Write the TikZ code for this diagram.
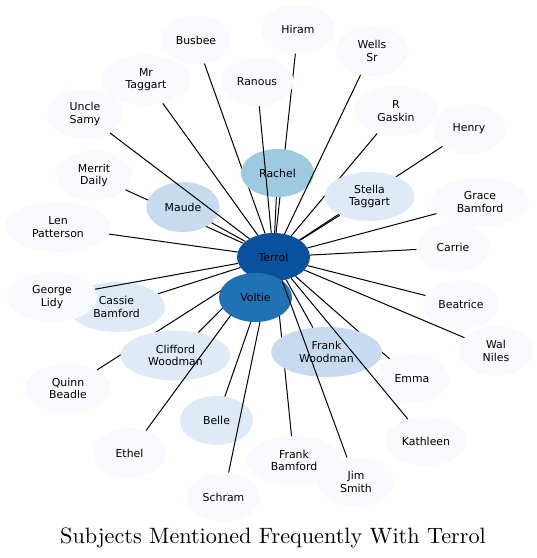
\documentclass[tikz,border=0pt]{standalone}
\usepackage{fontspec}
\newfontfamily\dejavu{DejaVu Sans}
\newfontfamily\titlefont{lmroman10-regular.otf}
\usetikzlibrary{shapes.geometric}
\definecolor{b1}{HTML}{F7FBFF}
\definecolor{b2}{HTML}{DEEBF7}
\definecolor{b3}{HTML}{C6DBEF}
\definecolor{b4}{HTML}{9ECAE1}
\definecolor{b7}{HTML}{2171B5}
\definecolor{b8}{HTML}{08519C}
\tikzset{
  bub/.style={ellipse, inner sep=0pt, align=center, draw=none,
    font={\dejavu\fontsize{10.9}{12.3}\selectfont}},
  link/.style={draw=black, line width=1pt},
}
\begin{document}
\begin{tikzpicture}[x=1pt,y=-1pt]
\useasboundingbox (0,0) rectangle (537,558);
\node[bub, fill=b8, minimum width=73pt, minimum height=48pt] (terrol) at (273.5,257) {Terrol};
\node[bub, fill=b2, minimum width=97pt, minimum height=50pt] (cassie) at (116.5,307) {Cassie\\Bamford};
\draw[link] (terrol) -- (cassie);
\node[bub, fill=b1, minimum width=90pt, minimum height=50pt] (george) at (52,297) {George\\Lidy};
\draw[link] (terrol) -- (george);
\node[bub, fill=b1, minimum width=76pt, minimum height=50pt] (merrit) at (94,175.5) {Merrit\\Daily};
\draw[link] (terrol) -- (merrit);
\node[bub, fill=b1, minimum width=72pt, minimum height=48pt] (busbee) at (196,40) {Busbee};
\draw[link] (terrol) -- (busbee);
\node[bub, fill=b1, minimum width=74pt, minimum height=49pt] (hiram) at (298,29) {Hiram};
\draw[link] (terrol) -- (hiram);
\node[bub, fill=b1, minimum width=73pt, minimum height=50pt] (henry) at (469,129) {Henry};
\draw[link] (terrol) -- (henry);
\node[bub, fill=b1, minimum width=84pt, minimum height=50pt] (rgaskin) at (396,111) {R\\Gaskin};
\draw[link] (terrol) -- (rgaskin);
\node[bub, fill=b1, minimum width=86pt, minimum height=50pt] (quinn) at (68,388.5) {Quinn\\Beadle};
\draw[link] (terrol) -- (quinn);
\node[bub, fill=b2, minimum width=110pt, minimum height=50pt] (clifford) at (175.5,355.5) {Clifford\\Woodman};
\draw[link] (terrol) -- (clifford);
\node[bub, fill=b1, minimum width=73pt, minimum height=50pt] (ethel) at (129.5,453) {Ethel};
\draw[link] (terrol) -- (ethel);
\node[bub, fill=b2, minimum width=73pt, minimum height=49pt] (belle) at (216.5,420.5) {Belle};
\draw[link] (terrol) -- (belle);
\node[bub, fill=b1, minimum width=73pt, minimum height=49pt] (schram) at (223.5,497) {Schram};
\draw[link] (terrol) -- (schram);
\node[bub, fill=b1, minimum width=96pt, minimum height=49pt] (fbamford) at (294,460.5) {Frank\\Bamford};
\draw[link] (terrol) -- (fbamford);
\node[bub, fill=b1, minimum width=74pt, minimum height=49pt] (emma) at (412,378.5) {Emma};
\draw[link] (terrol) -- (emma);
\node[bub, fill=b3, minimum width=73pt, minimum height=50pt] (maude) at (183,207) {Maude};
\draw[link] (terrol) -- (maude);
\node[bub, fill=b4, minimum width=73pt, minimum height=48pt] (rachel) at (277.5,173) {Rachel};
\draw[link] (terrol) -- (rachel);
\node[bub, fill=b2, minimum width=90pt, minimum height=49pt] (stella) at (369.5,196.5) {Stella\\Taggart};
\draw[link] (terrol) -- (stella);
\node[bub, fill=b7, minimum width=73pt, minimum height=49pt] (voltie) at (255.5,297.5) {Voltie};
\node[bub, fill=b3, minimum width=111pt, minimum height=50pt] (fwoodman) at (326.5,352) {Frank\\Woodman};
\draw[link] (terrol) -- (fwoodman);
\node[bub, fill=b1, minimum width=76pt, minimum height=50pt] (uncle) at (85,114) {Uncle\\Samy};
\draw[link] (terrol) -- (uncle);
\node[bub, fill=b1, minimum width=73pt, minimum height=49pt] (ranous) at (257,81.5) {Ranous};
\draw[link] (terrol) -- (ranous);
\node[bub, fill=b1, minimum width=76pt, minimum height=50pt] (jim) at (356,482) {Jim\\Smith};
\draw[link] (terrol) -- (jim);
\node[bub, fill=b1, minimum width=82pt, minimum height=49pt] (kathleen) at (426,441) {Kathleen};
\draw[link] (terrol) -- (kathleen);
\node[bub, fill=b1, minimum width=90pt, minimum height=50pt] (mrtaggart) at (146,80) {Mr\\Taggart};
\draw[link] (terrol) -- (mrtaggart);
\node[bub, fill=b1, minimum width=106pt, minimum height=50pt] (len) at (58,227) {Len\\Patterson};
\draw[link] (terrol) -- (len);
\node[bub, fill=b1, minimum width=73pt, minimum height=50pt] (wells) at (372,51) {Wells\\Sr};
\draw[link] (terrol) -- (wells);
\node[bub, fill=b1, minimum width=98pt, minimum height=50pt] (grace) at (480,202) {Grace\\Bamford};
\draw[link] (terrol) -- (grace);
\node[bub, fill=b1, minimum width=73pt, minimum height=49pt] (carrie) at (453,247.5) {Carrie};
\draw[link] (terrol) -- (carrie);
\node[bub, fill=b1, minimum width=76pt, minimum height=49pt] (beatrice) at (461,304.5) {Beatrice};
\draw[link] (terrol) -- (beatrice);
\node[bub, fill=b1, minimum width=74pt, minimum height=50pt] (wal) at (496,351) {Wal\\Niles};
\draw[link] (terrol) -- (wal);
\node[anchor=base, inner sep=0pt, font={\titlefont\fontsize{22.2}{26}\selectfont}] (title) at (273,543) {Subjects Mentioned Frequently With Terrol};
\end{tikzpicture}
\end{document}
